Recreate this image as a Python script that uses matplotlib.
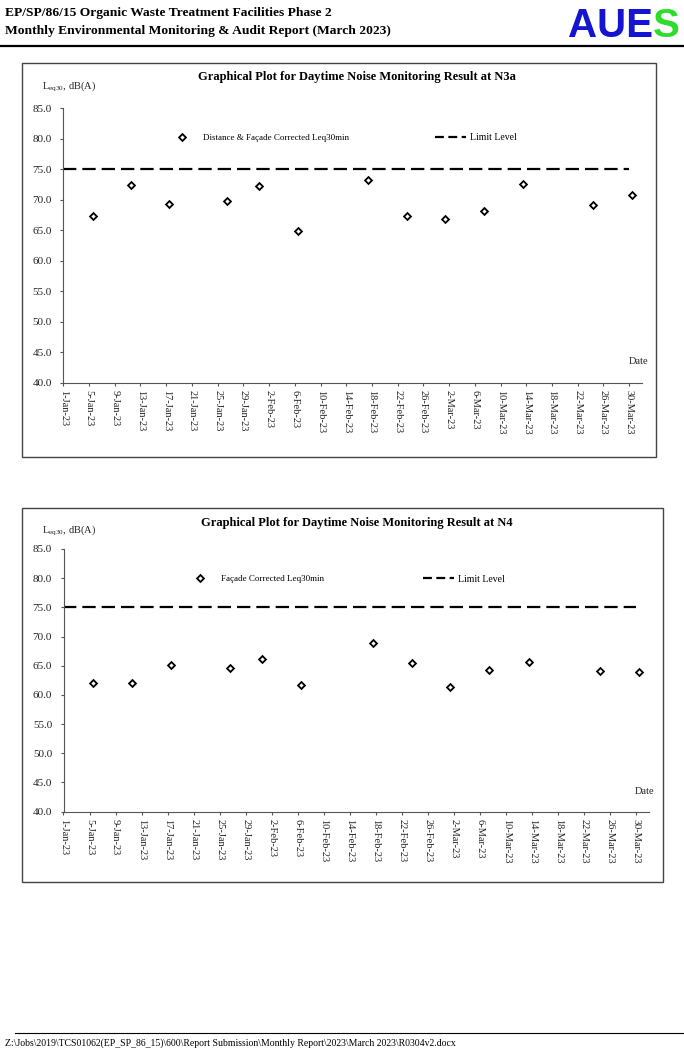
import matplotlib
matplotlib.use("Agg")
import matplotlib.pyplot as plt
from matplotlib.lines import Line2D
from matplotlib.patches import Rectangle
import pandas as pd

plt.rcParams["font.family"] = "Liberation Serif"
plt.rcParams["mathtext.fontset"] = "custom"
plt.rcParams["mathtext.rm"] = "Liberation Serif"

# monitoring dates (same for both stations)
dates = ["2023-01-05 13:40", "2023-01-11 12:00", "2023-01-17 12:00", "2023-01-26 12:00",
         "2023-01-31 12:00", "2023-02-06 13:00", "2023-02-17 11:00", "2023-02-23 11:00",
         "2023-03-01 10:00", "2023-03-07 10:00", "2023-03-13 10:00", "2023-03-24 10:00",
         "2023-03-30 10:00"]
n3a_leq = [67.3, 72.4, 69.3, 69.8, 72.3, 64.9, 73.2, 67.4, 66.8, 68.2, 72.6, 69.2, 70.7]
n4_leq = [62.1, 62.0, 65.2, 64.6, 66.2, 61.7, 68.9, 65.5, 61.4, 64.3, 65.6, 64.1, 64.0]
limit_level = 75
limit_span = ["2023-01-01", "2023-03-30"]
x_range = ["2023-01-01", "2023-04-01"]
tick_dates = pd.date_range("2023-01-01", "2023-03-30", freq="4D")

W, H = 684, 1048
fig = plt.figure(figsize=(W / 100, H / 100), dpi=100)


def fx(px):
    return px / W


def fy(py):
    return 1 - py / H


# header
fig.text(fx(5), fy(13), "EP/SP/86/15 Organic Waste Treatment Facilities Phase 2",
         fontsize=9.7, fontweight="bold", va="center", ha="left")
fig.text(fx(5), fy(31), "Monthly Environmental Monitoring & Audit Report (March 2023)",
         fontsize=9.7, fontweight="bold", va="center", ha="left")
logo = fig.text(fx(568), fy(37), "AUE", fontsize=29, fontweight="bold",
                family="Liberation Sans", color="#1414d2", va="baseline", ha="left")
fig.add_artist(matplotlib.text.Annotation("S", xy=(1, 0), xycoords=logo, va="bottom",
                                          ha="left", fontsize=29, fontweight="bold",
                                          family="Liberation Sans", color="#2edc2e"))
fig.add_artist(Line2D([0, 1], [fy(46), fy(46)], color="black", lw=1.6, transform=fig.transFigure))
fig.add_artist(Line2D([fx(15), 1], [fy(1033), fy(1033)], color="black", lw=0.8, transform=fig.transFigure))
fig.text(fx(5), fy(1043), r"Z:\Jobs\2019\TCS01062(EP_SP_86_15)\600\Report Submission\Monthly Report\2023\March 2023\R0304v2.docx",
         fontsize=7, va="center", ha="left")

charts = [
    dict(frame=(22, 63, 656, 457), axes=(63.3, 108, 642, 383), values=n3a_leq,
         title="Graphical Plot for Daytime Noise Monitoring Result at N3a", title_y=77, ylab_y=86.7,
         label="Distance & Façade Corrected Leq30min", leg1=(177.5, 138), leg2=(435, 138),
         date_pos=(639, 362)),
    dict(frame=(22, 508, 663, 882), axes=(63.5, 549, 649.5, 811.5), values=n4_leq,
         title="Graphical Plot for Daytime Noise Monitoring Result at N4", title_y=523, ylab_y=530.7,
         label="Façade Corrected Leq30min", leg1=(195.5, 579), leg2=(423, 579),
         date_pos=(645, 792)),
]

x = pd.to_datetime(dates)
for c in charts:
    l, t, r, b = c["frame"]
    fig.add_artist(Rectangle((fx(l), fy(b)), fx(r - l), (b - t) / H, fill=False,
                             edgecolor="#444444", lw=1.0, transform=fig.transFigure))
    al, at, ar, ab = c["axes"]
    ax = fig.add_axes([fx(al), fy(ab), fx(ar - al), (ab - at) / H])
    ax.plot(x, c["values"], linestyle="none", marker="D", markersize=3.5,
            markerfacecolor="white", markeredgecolor="black", markeredgewidth=1.3)
    ax.plot(pd.to_datetime(limit_span), [limit_level, limit_level], color="black",
            lw=1.6, dashes=(6, 2.7))
    ax.set_xlim(pd.to_datetime(x_range[0]), pd.to_datetime(x_range[1]))
    ax.set_ylim(40, 85)
    ax.set_yticks(range(40, 86, 5))
    ax.set_yticklabels([f"{v:.1f}" for v in range(40, 86, 5)])
    ax.set_xticks(tick_dates)
    ax.set_xticklabels([f"{d.day}-{d:%b-%y}" for d in tick_dates], rotation=-90,
                       ha="center", va="top")
    for s in ["top", "right"]:
        ax.spines[s].set_visible(False)
    for s in ["left", "bottom"]:
        ax.spines[s].set_color("#555555")
        ax.spines[s].set_linewidth(0.8)
    ax.tick_params(axis="y", direction="out", length=2.2, width=0.8, color="#555555",
                   labelsize=8, pad=6, labelcolor="#222222")
    ax.tick_params(axis="x", direction="out", length=2.2, width=0.8, color="#555555",
                   labelsize=7.5, pad=3, labelcolor="#222222")
    ax.patch.set_alpha(0)

    fig.text(fx(357), fy(c["title_y"]), c["title"], fontsize=9, fontweight="bold",
             ha="center", va="center")
    fig.text(fx(41.7), fy(c["ylab_y"]), r"L$_{\mathrm{eq30}}$, dB(A)", fontsize=7.5,
             ha="left", va="center", color="#222222")
    fig.text(fx(c["date_pos"][0]), fy(c["date_pos"][1]), "Date", fontsize=7.5,
             ha="center", va="center", color="#222222")

    def axfrac(px, py):
        return ((px - al) / (ar - al), (ab - py) / (ab - at))

    h1 = Line2D([], [], linestyle="none", marker="D", markersize=3.5, markerfacecolor="white",
                markeredgecolor="black", markeredgewidth=1.3)
    h2 = Line2D([], [], color="black", lw=1.6, dashes=(4, 2))
    leg1 = ax.legend([h1], [c["label"]], loc="center left", bbox_to_anchor=axfrac(*c["leg1"]),
                     frameon=False, fontsize=6.5, handlelength=1.0, handletextpad=1.8,
                     borderpad=0, borderaxespad=0)
    ax.add_artist(leg1)
    ax.legend([h2], ["Limit Level"], loc="center left", bbox_to_anchor=axfrac(*c["leg2"]),
              frameon=False, fontsize=7, handlelength=3.2, handletextpad=0.4,
              borderpad=0, borderaxespad=0)

fig.savefig("out.png", dpi=100)
